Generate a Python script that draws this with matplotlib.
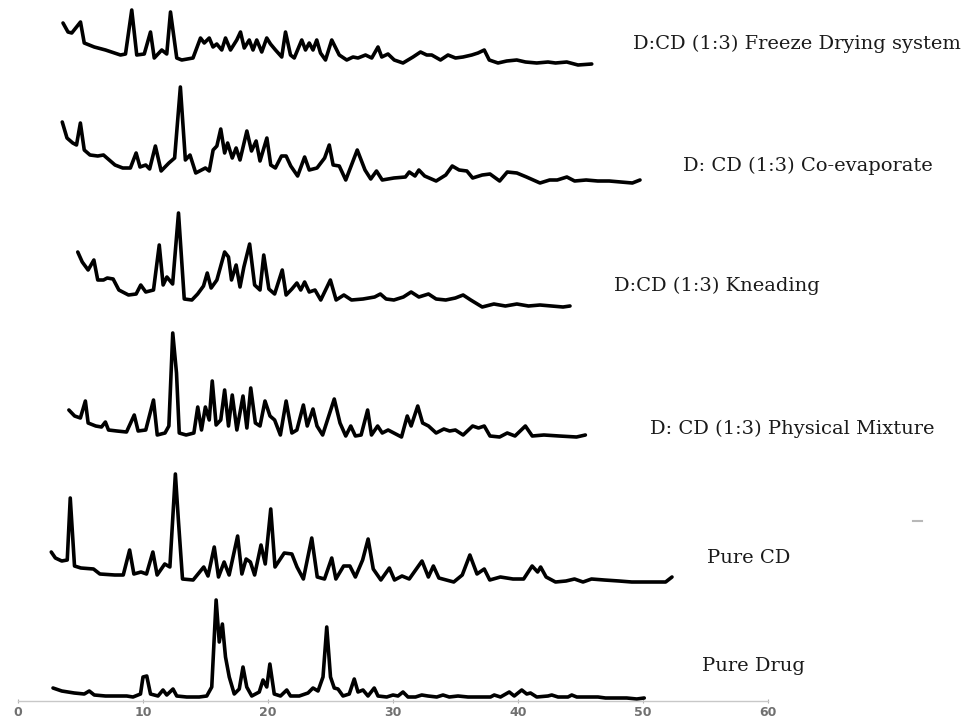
import matplotlib
matplotlib.use("Agg")
import matplotlib.pyplot as plt
from matplotlib.lines import Line2D

# ---------------- data (2-theta, intensity) ----------------
fd_theta = [3.6, 4.0, 4.3, 5.0, 5.3, 6.1, 7.0, 8.2, 8.6, 9.1, 9.5, 10.1, 10.6, 10.9, 11.5, 11.9,
            12.2, 12.7, 13.1, 14.0, 14.6, 14.9, 15.3, 15.6, 15.9, 16.3, 16.6, 17.0, 17.5, 17.8,
            18.1, 18.5, 18.8, 19.1, 19.5, 19.9, 20.2, 20.6, 21.1, 21.4, 21.8, 22.1, 22.7, 23.0,
            23.3, 23.6, 23.9, 24.2, 24.6, 25.1, 25.7, 26.3, 26.8, 27.2, 27.8, 28.3, 28.8, 29.1,
            29.6, 30.1, 30.8, 31.6, 32.2, 32.7, 33.1, 33.8, 34.4, 35.0, 35.6, 36.3, 36.8, 37.3,
            37.7, 38.4, 39.1, 39.9, 40.6, 41.5, 42.4, 43.0, 43.9, 44.8, 45.9]
fd_int = [43, 34, 33, 44, 23, 19, 16, 11, 12, 56, 11, 12, 34, 8, 16, 12,
          54, 8, 6, 8, 28, 23, 28, 19, 22, 16, 28, 16, 26, 34,
          18, 26, 16, 26, 14, 28, 22, 16, 9, 34, 11, 8, 26, 16,
          23, 16, 26, 13, 6, 26, 11, 6, 9, 8, 11, 8, 19, 9,
          12, 6, 3, 9, 14, 11, 11, 6, 11, 8, 9, 11, 13, 16,
          6, 3, 5, 6, 4, 3, 4, 3, 4, 1, 2]

ce_theta = [3.54, 3.92, 4.38, 4.68, 4.99, 5.30, 5.76, 6.38, 6.84, 7.30, 7.76, 8.38, 8.99, 9.45,
            9.76, 10.22, 10.53, 10.99, 11.45, 12.07, 12.53, 12.99, 13.39, 13.76, 14.22, 14.99,
            15.30, 15.61, 15.91, 16.22, 16.53, 16.77, 17.14, 17.45, 17.76, 18.31, 18.68, 19.05,
            19.36, 19.91, 20.22, 20.59, 21.08, 21.45, 21.82, 22.37, 22.93, 23.30, 23.92, 24.53,
            24.90, 25.21, 25.70, 26.22, 27.14, 27.76, 28.22, 28.68, 29.14, 30.07, 30.99, 31.30,
            31.76, 32.07, 32.53, 33.45, 34.22, 34.74, 35.29, 35.91, 36.37, 37.14, 37.76, 38.53,
            39.14, 39.91, 40.68, 41.76, 42.53, 43.14, 43.91, 44.53, 45.45, 46.38, 47.30, 48.22,
            49.15, 49.76]
ce_int = [61, 45, 40, 38, 60, 33, 28, 27, 28, 23, 18, 15, 15, 30,
          16, 18, 14, 37, 12, 20, 25, 96, 23, 28, 10, 15,
          12, 33, 37, 54, 30, 40, 25, 35, 23, 52, 32, 42,
          22, 45, 18, 15, 27, 27, 17, 7, 26, 13, 15, 25,
          38, 18, 17, 3, 33, 13, 4, 12, 3, 5, 6, 11,
          7, 13, 7, 2, 8, 17, 13, 12, 5, 8, 9, 2,
          11, 10, 6, 0, 3, 3, 6, 2, 3, 2, 2, 1,
          0, 3]

kn_theta = [4.78, 5.14, 5.61, 6.07, 6.38, 6.84, 7.14, 7.61, 8.07, 8.84, 9.45, 9.82, 10.22, 10.84,
            11.30, 11.61, 11.91, 12.37, 12.84, 13.30, 13.91, 14.37, 14.84, 15.14, 15.45, 15.91,
            16.53, 16.84, 17.08, 17.45, 17.76, 18.07, 18.53, 18.93, 19.36, 19.66, 20.07, 20.53,
            21.14, 21.45, 21.91, 22.31, 22.62, 22.93, 23.30, 23.76, 24.22, 24.99, 25.45, 26.07,
            26.68, 27.60, 28.53, 28.99, 29.45, 30.07, 30.83, 31.45, 32.07, 32.84, 33.45, 34.22,
            34.99, 35.61, 36.22, 37.14, 38.07, 38.99, 39.91, 40.84, 41.76, 42.68, 43.60, 44.16]
kn_int = [55, 45, 37, 47, 27, 27, 29, 28, 17, 12, 13, 22, 15, 17,
          62, 22, 30, 23, 94, 8, 7, 13, 21, 34, 19, 27,
          55, 50, 27, 42, 20, 40, 63, 22, 17, 52, 18, 13,
          37, 12, 18, 24, 17, 25, 15, 17, 7, 27, 7, 12,
          7, 8, 10, 13, 8, 7, 10, 15, 10, 13, 8, 7,
          9, 12, 7, 0, 3, 1, 3, 1, 2, 1, 0, 1]

pm_theta = [4.07, 4.53, 4.99, 5.39, 5.61, 6.22, 6.68, 6.99, 7.24, 7.91, 8.68, 9.30, 9.61, 10.22,
            10.84, 11.14, 11.76, 12.07, 12.38, 12.68, 12.90, 13.45, 14.07, 14.38, 14.68, 14.99,
            15.30, 15.54, 15.85, 16.22, 16.53, 16.84, 17.14, 17.51, 18.00, 18.31, 18.62, 18.99,
            19.36, 19.76, 20.16, 20.53, 20.99, 21.45, 21.91, 22.31, 22.83, 23.14, 23.60, 23.92,
            24.37, 25.30, 25.76, 26.22, 26.62, 26.99, 27.45, 27.97, 28.28, 28.77, 29.14, 29.61,
            30.68, 31.14, 31.45, 31.98, 32.37, 32.84, 33.45, 34.07, 34.53, 34.99, 35.61, 36.37,
            36.84, 37.30, 37.76, 38.53, 39.14, 39.76, 40.59, 41.14, 42.07, 43.30, 44.68, 45.39]
pm_int = [27, 21, 19, 36, 14, 11, 10, 15, 7, 6, 5, 22, 6, 7,
          37, 2, 4, 11, 104, 64, 4, 2, 4, 30, 7, 30,
          17, 56, 12, 17, 47, 11, 42, 7, 41, 9, 49, 14,
          11, 36, 21, 17, 2, 36, 4, 7, 32, 11, 28, 11,
          2, 38, 14, 1, 11, 1, 2, 27, 2, 11, 4, 7,
          0, 21, 11, 31, 14, 11, 4, 8, 6, 7, 2, 11,
          9, 11, 1, 0, 4, 1, 11, 1, 2, 1, 0, 2]

cd_theta = [2.66, 2.99, 3.50, 3.94, 4.18, 4.52, 5.03, 6.04, 6.55, 7.74, 8.42, 8.93, 9.27, 9.84,
            10.28, 10.79, 11.13, 11.74, 12.15, 12.59, 12.83, 13.16, 14.01, 14.86, 15.20, 15.70,
            16.04, 16.49, 16.89, 17.57, 17.91, 18.25, 18.59, 18.93, 19.44, 19.78, 20.22, 20.56,
            21.30, 21.91, 22.32, 22.83, 23.50, 23.94, 24.52, 25.10, 25.43, 26.05, 26.55, 26.99,
            27.57, 28.01, 28.42, 29.03, 29.71, 30.12, 30.72, 31.30, 32.32, 32.83, 33.23, 33.67,
            34.86, 35.54, 36.15, 36.72, 37.30, 37.74, 38.59, 39.60, 40.45, 41.13, 41.57, 41.81,
            42.25, 43.00, 43.84, 44.52, 45.20, 45.88, 46.90, 48.08, 49.10, 50.46, 51.81, 52.32]
cd_int = [30, 24, 21, 22, 84, 16, 14, 13, 8, 7, 7, 32, 8, 10,
          8, 30, 7, 18, 15, 108, 62, 3, 2, 15, 6, 35,
          5, 20, 7, 46, 8, 23, 20, 7, 37, 18, 73, 15,
          29, 28, 15, 3, 44, 5, 3, 24, 3, 16, 16, 5,
          22, 43, 13, 2, 14, 2, 6, 3, 21, 5, 16, 4,
          0, 7, 27, 8, 13, 2, 5, 3, 3, 16, 10, 15,
          5, 0, 1, 3, 0, 3, 2, 1, 0, 0, 0, 5]

pd_theta = [2.8, 3.5, 4.5, 5.3, 5.7, 6.1, 7.0, 8.0, 8.7, 9.2, 9.8, 10.0, 10.3, 10.6, 11.2, 11.6,
            11.9, 12.4, 12.7, 13.5, 14.5, 15.1, 15.5, 15.85, 16.1, 16.35, 16.6, 16.9, 17.3, 17.7,
            18.0, 18.3, 18.7, 19.3, 19.6, 19.9, 20.15, 20.5, 21.0, 21.5, 21.8, 22.5, 23.2, 23.6,
            24.0, 24.4, 24.7, 25.0, 25.3, 25.6, 26.0, 26.5, 26.9, 27.2, 27.6, 28.0, 28.5, 28.8,
            29.5, 30.0, 30.4, 30.8, 31.2, 31.8, 32.3, 32.8, 33.5, 34.0, 34.5, 35.2, 36.0, 37.0,
            37.8, 38.1, 38.6, 39.3, 39.7, 40.3, 40.7, 41.0, 41.5, 42.4, 42.7, 43.2, 44.0, 44.3,
            44.7, 45.5, 46.4, 47.0, 48.0, 48.7, 49.5, 50.1]
pd_int = [9, 6, 4, 3, 6, 2, 1, 1, 1, 0, 3, 20, 21, 3, 1, 7,
          2, 8, 1, 0, 0, 1, 10, 97, 55, 73, 40, 20, 3, 8,
          30, 10, 1, 5, 17, 10, 33, 3, 1, 7, 1, 1, 4, 9,
          6, 20, 70, 20, 9, 8, 1, 3, 18, 5, 7, 1, 9, 1,
          0, 2, 1, 5, 0, 0, 2, 1, 0, 2, 0, 1, 0, 0,
          0, 2, 0, 5, 1, 7, 3, 4, 0, 1, 2, 0, 0, 2,
          0, 0, 0, -1, -1, -1, -2, -1]

labels = ["D:CD (1:3) Freeze Drying system", "D: CD (1:3) Co-evaporate",
          "D:CD (1:3) Kneading", "D: CD (1:3) Physical Mixture", "Pure CD", "Pure Drug"]
x_ticks = [0, 10, 20, 30, 40, 50, 60]

# ---------------- layout ----------------
W, H = 965, 720
fig = plt.figure(figsize=(W / 100, H / 100), dpi=100)
axis_px = 701
ax = fig.add_axes([18 / W, 0, 750 / W, 1])
ax.set_xlim(0, 60)
ax.set_ylim(-(H - axis_px), axis_px)

series = [(fd_theta, fd_int), (ce_theta, ce_int), (kn_theta, kn_int),
          (pm_theta, pm_int), (cd_theta, cd_int), (pd_theta, pd_int)]
offsets = [635, 518, 394, 264, 119, 4]
for (t, y), off in zip(series, offsets):
    ax.plot(t, [v + off for v in y], color="black", lw=2.6,
            solid_joinstyle="round", solid_capstyle="round")

for s in ["top", "right", "left"]:
    ax.spines[s].set_visible(False)
ax.spines["bottom"].set_position(("data", 0))
ax.spines["bottom"].set_color("#c8c8c8")
ax.spines["bottom"].set_linewidth(1.0)
ax.set_yticks([])
ax.set_xticks(x_ticks)
ax.set_xticklabels([str(v) for v in x_ticks])
ax.tick_params(axis="x", direction="inout", length=3, width=0.8, color="#b0b0b0",
               labelsize=9, labelcolor="#707070", pad=2)
for lab in ax.get_xticklabels():
    lab.set_fontweight("bold")

label_pos = [(633, 44), (683, 166), (614, 286), (650, 429), (707, 558), (702, 666)]
for txt, (px, py) in zip(labels, label_pos):
    fig.text(px / W, 1 - py / H, txt, ha="left", va="center",
             family="DejaVu Serif", fontsize=14, color="#1a1a1a")

fig.add_artist(Line2D([913 / W, 922 / W], [1 - 521 / H, 1 - 521 / H],
                      color="#b8b8b8", lw=1.5))

fig.savefig("out.png", dpi=100)
